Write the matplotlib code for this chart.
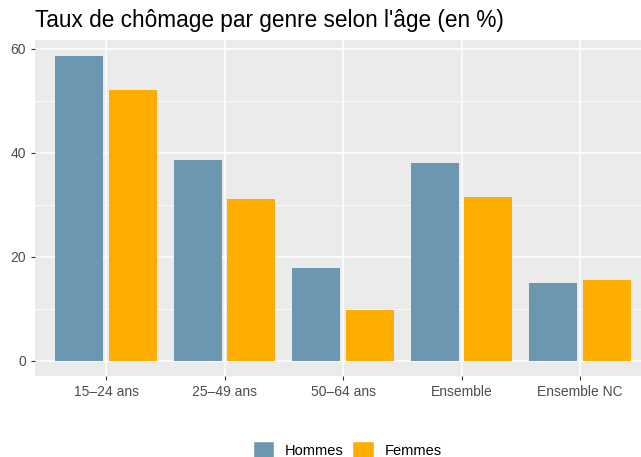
import matplotlib.pyplot as plt
import numpy as np
from matplotlib.patches import Patch

plt.rcParams["font.family"] = ["Liberation Sans", "DejaVu Sans"]

# -------------------------------
# Data
# -------------------------------
categories = ["15\u201324 ans", "25\u201349 ans", "50\u201364 ans", "Ensemble", "Ensemble NC"]
hommes = [58.7, 38.6, 17.8, 38.0, 14.9]
femmes = [52.1, 31.1, 9.8, 31.5, 15.6]
series_names = ["Hommes", "Femmes"]

col_h = "#6C97B0"
col_f = "#FFAD00"
grey_txt = "#4D4D4D"

W, H = 641, 457
fig = plt.figure(figsize=(W / 100, H / 100), dpi=100)
ax = fig.add_axes([35 / W, 1 - 376 / H, (W - 35) / W, (376 - 40) / H])

x = np.arange(1, len(categories) + 1)
w = 0.405
off = 0.225
ax.bar(x - off, hommes, width=w, color=col_h, linewidth=0, zorder=3)
ax.bar(x + off, femmes, width=w, color=col_f, linewidth=0, zorder=3)

ax.set_facecolor("#EBEBEB")
ax.set_xlim(0.4, 0.4 + (W - 35) / 118.5)
ax.set_ylim(-2.95, 61.7)
ax.set_yticks([0, 20, 40, 60])
ax.set_yticks([10, 30, 50], minor=True)
ax.set_xticks(x)
ax.set_xticklabels(categories)

ax.grid(True, which="major", color="white", linewidth=1.1, zorder=0)
ax.grid(True, which="minor", axis="y", color="white", linewidth=0.55, zorder=0)
for s in ax.spines.values():
    s.set_visible(False)
ax.tick_params(axis="both", which="major", colors="#333333", labelcolor=grey_txt,
               labelsize=10, length=3, width=0.8)
ax.tick_params(axis="y", which="minor", length=0)

fig.text(35 / W, 1 - 21 / H, "Taux de chômage par genre selon l'âge (en %)",
         fontsize=16.3, va="center", ha="left", color="black")

handles = [Patch(facecolor=col_h, edgecolor="white"), Patch(facecolor=col_f, edgecolor="white")]
fig.legend(handles, series_names, loc="center", bbox_to_anchor=(347 / W, 1 - 450 / H),
           ncol=2, frameon=False, fontsize=10.5, handlelength=1.5, handleheight=1.5,
           columnspacing=0.6, handletextpad=0.7)

fig.savefig("out.png", dpi=100)
